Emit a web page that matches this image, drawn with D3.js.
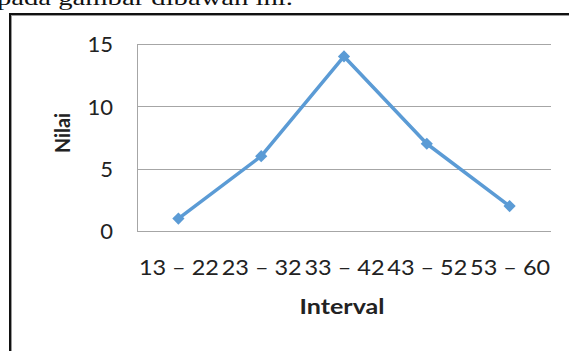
<!DOCTYPE html>
<html>
<head>
<meta charset="utf-8">
<script src="https://cdn.jsdelivr.net/npm/d3@7"></script>
<style>
  html, body { margin: 0; padding: 0; background: #fff; }
  svg { display: block; }
</style>
</head>
<body>
<svg id="chart" width="569" height="351"></svg>
<script>
// Frequency per class interval
const categories = ["13 \u2013 22", "23 \u2013 32", "33 \u2013 42", "43 \u2013 52", "53 \u2013 60"];
const values = [1, 6, 14, 7, 2];
const yTicks = [0, 5, 10, 15];

const svg = d3.select("#chart");
const W = 569, H = 351;
const margin = { left: 137, right: 18, top: 44, bottom: 120 };
const FONT = "Lato, sans-serif";

// Preceding line of text from the page, partially cut off at the top
svg.append("text")
  .attr("x", -3).attr("y", 5)
  .attr("font-family", "Liberation Serif, serif")
  .attr("font-size", 22)
  .attr("fill", "#111")
  .attr("textLength", 296)
  .attr("lengthAdjust", "spacingAndGlyphs")
  .text("pada gambar dibawah ini.");

// Chart frame
svg.append("line").attr("x1", 9).attr("x2", W + 5).attr("y1", 14).attr("y2", 14)
  .attr("stroke", "#111").attr("stroke-width", 2);
svg.append("line").attr("x1", 10).attr("x2", 10).attr("y1", 13).attr("y2", H + 5)
  .attr("stroke", "#111").attr("stroke-width", 2);
svg.append("line").attr("x1", 11.5).attr("x2", W + 5).attr("y1", 15.5).attr("y2", 15.5)
  .attr("stroke", "#999").attr("stroke-width", 1);
svg.append("line").attr("x1", 11.5).attr("x2", 11.5).attr("y1", 15).attr("y2", H + 5)
  .attr("stroke", "#999").attr("stroke-width", 1);

const x = d3.scalePoint().domain(categories)
  .range([margin.left, W - margin.right]).padding(0.5);
const y = d3.scaleLinear().domain([0, 15]).range([231, 44]);

// Gridlines
svg.append("g").selectAll("line").data(yTicks).join("line")
  .attr("x1", margin.left).attr("x2", W - margin.right)
  .attr("y1", d => Math.round(y(d)) + 0.5).attr("y2", d => Math.round(y(d)) + 0.5)
  .attr("stroke", "#a6a6a6").attr("stroke-width", 1);

// Vertical axis line
svg.append("line")
  .attr("x1", margin.left + 0.5).attr("x2", margin.left + 0.5)
  .attr("y1", y(15)).attr("y2", y(0) + 0.5)
  .attr("stroke", "#a6a6a6").attr("stroke-width", 1);

// Y tick labels
const yAxis = d3.axisLeft(y).tickValues(yTicks).tickSize(0).tickPadding(0);
const gy = svg.append("g").attr("transform", `translate(${margin.left - 24},0)`).call(yAxis);
gy.select(".domain").remove();
gy.selectAll("text")
  .attr("font-family", FONT).attr("font-size", 22)
  .attr("fill", "#222").attr("dy", "0.36em");

// X tick labels
const xAxis = d3.axisBottom(x).tickSize(0).tickPadding(0);
const gx = svg.append("g").attr("transform", "translate(0,275)").call(xAxis);
gx.select(".domain").remove();
gx.selectAll("text")
  .attr("font-family", FONT).attr("font-size", 22)
  .attr("fill", "#222").attr("dy", "0")
  .attr("textLength", 80).attr("lengthAdjust", "spacingAndGlyphs");

// Axis titles
svg.append("text")
  .attr("x", 342).attr("y", 314)
  .attr("text-anchor", "middle")
  .attr("font-family", FONT).attr("font-weight", "bold").attr("font-size", 21)
  .attr("fill", "#222")
  .attr("textLength", 85).attr("lengthAdjust", "spacingAndGlyphs")
  .text("Interval");
svg.append("text")
  .attr("transform", "translate(70,133) rotate(-90)")
  .attr("text-anchor", "middle")
  .attr("font-family", FONT).attr("font-weight", "bold").attr("font-size", 21)
  .attr("fill", "#222")
  .attr("textLength", 40).attr("lengthAdjust", "spacingAndGlyphs")
  .text("Nilai");

// Series line
const line = d3.line().x((d, i) => x(categories[i])).y(d => y(d));
svg.append("path").datum(values)
  .attr("d", line)
  .attr("fill", "none").attr("stroke", "#5b9bd5").attr("stroke-width", 3.5)
  .attr("stroke-linejoin", "round");

// Diamond markers
svg.append("g").selectAll("path").data(values).join("path")
  .attr("transform", (d, i) => `translate(${x(categories[i])},${y(d)})`)
  .attr("d", d3.symbol(d3.symbolDiamond2, 95)())
  .attr("fill", "#5b9bd5");
</script>
</body>
</html>
